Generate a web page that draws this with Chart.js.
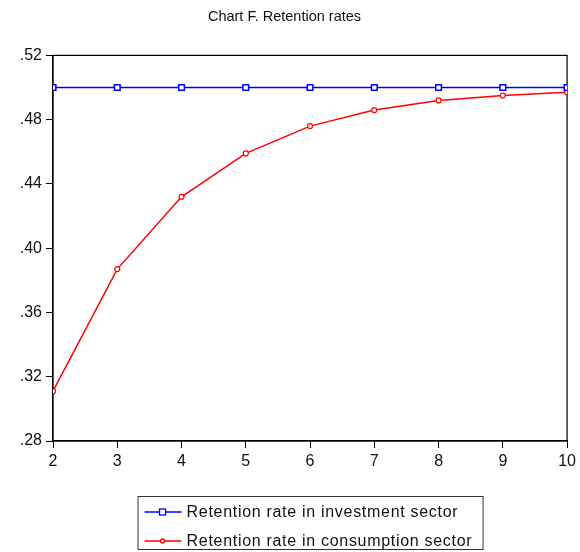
<!DOCTYPE html>
<html>
<head>
<meta charset="utf-8">
<script src="https://cdn.jsdelivr.net/npm/chart.js@4"></script>
<style>
  html, body { margin: 0; padding: 0; background: #fff; }
  #wrap { width: 580px; height: 552px; }
</style>
</head>
<body>
<div id="wrap"><canvas id="grafik"></canvas></div>
<script>
// data grafik
const periode = [2, 3, 4, 5, 6, 7, 8, 9, 10];
const rasioInvestasi = [0.500, 0.500, 0.500, 0.500, 0.500, 0.500, 0.500, 0.500, 0.500];
const rasioKonsumsi = [0.311, 0.387, 0.432, 0.459, 0.476, 0.486, 0.492, 0.495, 0.497];
const tickY = [0.28, 0.32, 0.36, 0.40, 0.44, 0.48, 0.52];

const FONT = '"Liberation Sans", Arial, sans-serif';

// bingkai area plot
const bingkai = {
    id: 'bingkai',
    beforeDatasetsDraw(chart) {
        const a = chart.chartArea, c = chart.ctx;
        c.save();
        c.strokeStyle = '#000';
        c.lineWidth = 1.2;
        c.strokeRect(a.left, a.top, a.right - a.left, a.bottom - a.top);
        c.restore();
    }
};

// keterangan di bawah grafik
const keterangan = {
    id: 'keterangan',
    afterDraw(chart) {
        const a = chart.chartArea, c = chart.ctx;
        const w = 345, h = 53;
        const x0 = (a.left + a.right) / 2 - w / 2;
        const y0 = 496;
        c.save();
        c.strokeStyle = '#333';
        c.lineWidth = 1;
        c.strokeRect(x0 + 0.5, y0 + 0.5, w, h);
        c.font = '16px ' + FONT;
        c.letterSpacing = '0.7px';
        c.textBaseline = 'middle';
        chart.data.datasets.forEach((ds, i) => {
            const yy = y0 + 16 + i * 29;
            c.strokeStyle = ds.borderColor;
            c.lineWidth = 1.3;
            c.beginPath();
            c.moveTo(x0 + 7, yy);
            c.lineTo(x0 + 44, yy);
            c.stroke();
            c.fillStyle = '#fff';
            if (ds.pointStyle === 'rect') {
                c.fillRect(x0 + 22, yy - 3, 6, 6);
                c.strokeRect(x0 + 22, yy - 3, 6, 6);
            } else {
                c.beginPath();
                c.arc(x0 + 25, yy, 2, 0, Math.PI * 2);
                c.fill();
                c.stroke();
            }
            c.fillStyle = '#111';
            c.fillText(ds.label, x0 + 49, yy + 1);
        });
        c.restore();
    }
};

new Chart(document.getElementById('grafik'), {
    type: 'line',
    data: {
        datasets: [{
            label: 'Retention rate in investment sector',
            data: periode.map((p, i) => ({ x: p, y: rasioInvestasi[i] })),
            borderColor: '#0000ff',
            borderWidth: 1.5,
            pointStyle: 'rect',
            pointRadius: 4,
            pointBorderWidth: 1.5,
            pointBackgroundColor: '#fff',
            pointBorderColor: '#0000ff',
            clip: 0
        }, {
            label: 'Retention rate in consumption sector',
            data: periode.map((p, i) => ({ x: p, y: rasioKonsumsi[i] })),
            borderColor: '#ff0000',
            borderWidth: 1.5,
            pointStyle: 'circle',
            pointRadius: 2.5,
            pointBorderWidth: 1.2,
            pointBackgroundColor: '#fff',
            pointBorderColor: '#ff0000',
            clip: 0
        }]
    },
    options: {
        responsive: true,
        maintainAspectRatio: false,
        animation: false,
        layout: { padding: { left: 0, right: 11, top: 0, bottom: 0 } },
        plugins: {
            legend: { display: false },
            tooltip: { enabled: false },
            title: {
                display: true,
                text: 'Chart F. Retention rates',
                color: '#111',
                font: { family: FONT, size: 14.5, weight: 'normal' },
                padding: { top: 8, bottom: 30 }
            }
        },
        scales: {
            x: {
                type: 'linear',
                min: 2,
                max: 10,
                ticks: {
                    stepSize: 1,
                    color: '#111',
                    padding: 4,
                    font: { family: FONT, size: 16 }
                },
                grid: { drawOnChartArea: false, tickLength: 7, color: '#000' },
                border: { color: '#000', width: 1.2 },
                afterFit(s) { s.height = 111; }
            },
            y: {
                min: 0.28,
                max: 0.52,
                afterBuildTicks(s) { s.ticks = tickY.map(v => ({ value: v })); },
                ticks: {
                    color: '#111',
                    padding: 4,
                    font: { family: FONT, size: 16 },
                    callback: v => v.toFixed(2).replace(/^0/, '')
                },
                grid: { drawOnChartArea: false, tickLength: 7, color: '#000' },
                border: { color: '#000', width: 1.2 },
                afterFit(s) { s.width = 53; }
            }
        }
    },
    plugins: [bingkai, keterangan]
});
</script>
</body>
</html>
